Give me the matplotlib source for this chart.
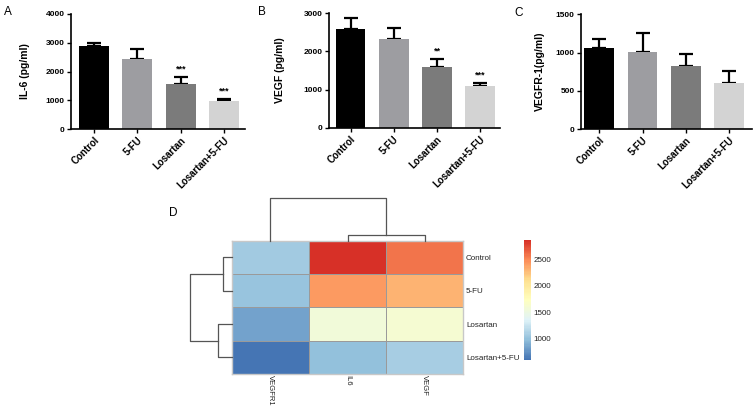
import numpy as np
import matplotlib
matplotlib.use('Agg')
import matplotlib.pyplot as plt
from matplotlib.colors import LinearSegmentedColormap

# group names and measured values (means + upper SEM)
groups = ['Control', '5-FU', 'Losartan', 'Losartan+5-FU']
il6_mean = [2870, 2420, 1570, 990]
il6_err = [110, 380, 230, 50]
il6_sig = ['', '', '***', '***']
vegf_mean = [2590, 2320, 1600, 1090]
vegf_err = [280, 295, 195, 90]
vegf_sig = ['', '', '**', '***']
vegfr1_mean = [1055, 1010, 828, 598]
vegfr1_err = [118, 249, 153, 161]
vegfr1_sig = ['', '', '', '']

heat_cols = ['VEGFR1', 'IL6', 'VEGF']
cbar_ticks = [1000, 1500, 2000, 2500]

bar_colors = ['#000000', '#9d9da1', '#7b7b7b', '#d3d3d3']
W, H = 755, 408

plt.rcParams['font.family'] = ['Liberation Sans', 'DejaVu Sans']

fig = plt.figure(figsize=(W / 100, H / 100), dpi=100)


def px_axes(x0, y0, x1, y1):
    # pixel box (from top-left) -> axes
    return fig.add_axes([x0 / W, 1 - y1 / H, (x1 - x0) / W, (y1 - y0) / H])


def bar_panel(box, means, errs, sigs, ylabel, ymax, ystep, xlim, lab_x):
    ax = px_axes(*box)
    x = np.arange(len(groups))
    ax.bar(x, means, width=0.69, color=bar_colors, zorder=2)
    ax.errorbar(x, means, yerr=[np.zeros(len(errs)), errs], fmt='none',
                ecolor='black', elinewidth=1.6, capsize=4.8, capthick=1.6, zorder=1)
    for xi, m, e, s in zip(x, means, errs, sigs):
        if s:
            ax.annotate(s, (xi, m + e), xytext=(0, 2.5), textcoords='offset points',
                        ha='center', va='bottom', fontsize=6.5, fontweight='bold')
    ax.set_xlim(*xlim)
    ax.set_ylim(0, ymax)
    ax.set_yticks(np.arange(0, ymax + 1, ystep))
    ax.set_xticks(x)
    ax.set_xticklabels(groups, rotation=45, ha='right', rotation_mode='anchor',
                       fontsize=7, fontweight='bold')
    for t in ax.get_yticklabels():
        t.set_fontsize(6)
        t.set_fontweight('bold')
    ax.set_ylabel(ylabel, fontsize=7.5, fontweight='bold')
    ax.yaxis.set_label_coords(lab_x, 0.5)
    for sp in ['top', 'right']:
        ax.spines[sp].set_visible(False)
    for sp in ['left', 'bottom']:
        ax.spines[sp].set_linewidth(1.2)
    ax.tick_params(axis='both', length=3, width=1.0, pad=1.5)
    return ax


bar_panel((71, 14, 245, 129), il6_mean, il6_err, il6_sig, 'IL-6 (pg/ml)',
          4000, 1000, (-0.53, 3.48), -0.236)
bar_panel((329, 13.3, 500, 127.7), vegf_mean, vegf_err, vegf_sig, 'VEGF (pg/ml)',
          3000, 1000, (-0.5, 3.46), -0.257)
bar_panel((581, 14.3, 751.7, 129), vegfr1_mean, vegfr1_err, vegfr1_sig, 'VEGFR-1(pg/ml)',
          1500, 500, (-0.42, 3.52), -0.21)

for letter, (lx, ly) in zip('ABCD', [(8, 12), (262, 12), (519, 13), (173, 213)]):
    fig.text(lx / W, 1 - ly / H, letter, fontsize=8.5, ha='center', va='center')

# ---- heatmap (pheatmap style) ----
heat = np.column_stack([vegfr1_mean, il6_mean, vegf_mean]).astype(float)


def complete_linkage(X):
    n = len(X)
    D = np.sqrt(((X[:, None, :] - X[None, :, :]) ** 2).sum(-1))
    members = {i: [i] for i in range(n)}
    merges = []
    nid = n
    while len(members) > 1:
        keys = list(members)
        best = None
        for i in range(len(keys)):
            for j in range(i + 1, len(keys)):
                a, b = keys[i], keys[j]
                d = max(D[p, q] for p in members[a] for q in members[b])
                if best is None or d < best[2]:
                    best = (a, b, d)
        a, b, d = best
        merges.append((a, b, d))
        members[nid] = members.pop(a) + members.pop(b)
        nid += 1
    return merges


def draw_dendro(ax, merges, n, horizontal=False):
    pos = {i: i + 0.5 for i in range(n)}
    hgt = {i: 0.0 for i in range(n)}
    nid = n
    for a, b, d in merges:
        xs = [pos[a], pos[a], pos[b], pos[b]]
        ys = [hgt[a], d, d, hgt[b]]
        if horizontal:
            ax.plot(ys, xs, color='#555555', lw=0.9, clip_on=False)
        else:
            ax.plot(xs, ys, color='#555555', lw=0.9, clip_on=False)
        pos[nid] = (pos[a] + pos[b]) / 2
        hgt[nid] = d
        nid += 1
    return max(d for _, _, d in merges)


rdylbu7 = ['#4575B4', '#91BFDB', '#E0F3F8', '#FFFFBF', '#FEE090', '#FC8D59', '#D73027']
cmap = LinearSegmentedColormap.from_list('rdylbu_r', rdylbu7, N=100)
vmin, vmax = heat.min(), heat.max()

hx0, hy0, hx1, hy1 = 231.7, 240.7, 463.3, 374
axh = px_axes(hx0, hy0, hx1, hy1)
mesh = axh.pcolormesh(np.arange(4), np.arange(5), heat, cmap=cmap, vmin=vmin, vmax=vmax,
                      edgecolors='#9a9a9a', linewidth=0.6)
axh.set_xlim(0, 3)
axh.set_ylim(4, 0)
for sp in axh.spines.values():
    sp.set_color('#c8c8c8')
    sp.set_linewidth(1.0)
axh.set_xticks(np.arange(3) + 0.5)
axh.set_xticklabels(heat_cols, rotation=-90, fontsize=5.5, color='#222222', va='top')
axh.set_yticks(np.arange(4) + 0.5)
axh.set_yticklabels(groups, fontsize=5.8, color='#222222')
axh.yaxis.tick_right()
axh.tick_params(axis='y', length=0, pad=2)
axh.tick_params(axis='x', length=0, pad=1)

# column dendrogram
axc = px_axes(hx0, 198.3, hx1, hy0)
hmax = draw_dendro(axc, complete_linkage(heat.T), 3)
axc.set_xlim(0, 3)
axc.set_ylim(0, hmax)
axc.axis('off')

# row dendrogram
axr = px_axes(190, hy0, hx0, hy1)
hmax = draw_dendro(axr, complete_linkage(heat), 4, horizontal=True)
axr.set_xlim(hmax, 0)
axr.set_ylim(4, 0)
axr.axis('off')

# colorbar
axcb = px_axes(524, 240, 530.7, 360)
cb = fig.colorbar(mesh, cax=axcb)
cb.outline.set_visible(False)
cb.set_ticks(cbar_ticks)
cb.ax.tick_params(length=0, labelsize=5.8, pad=2, labelcolor='#222222')

fig.savefig('out.png', dpi=100)
